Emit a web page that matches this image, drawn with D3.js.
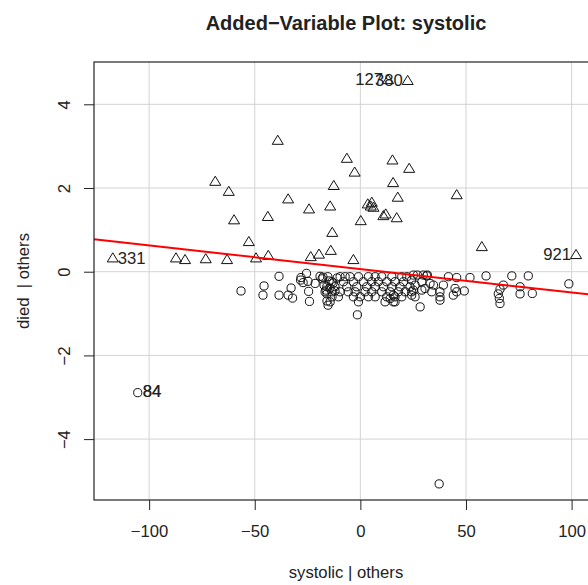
<!DOCTYPE html>
<html>
<head>
<meta charset="utf-8">
<script src="https://cdnjs.cloudflare.com/ajax/libs/d3/7.8.5/d3.min.js"></script>
<style>
html,body{margin:0;padding:0;background:#fff;overflow:hidden;}
svg{display:block;}
text{font-family:"Liberation Sans",Arial,Helvetica,sans-serif;fill:#222;}
</style>
</head>
<body>
<svg id="chart" width="588" height="585"></svg>
<script>
// ---- data ----
const titleText = "Added\u2212Variable Plot: systolic";
const xLabelText = "systolic | others";
const yLabelText = "died  | others";
const xTicks = [-100, -50, 0, 50, 100];
const yTicks = [-4, -2, 0, 2, 4];
const xDomain = [-126.1, 112.5];
const yDomain = [-5.455, 5.011];

// died = 1 (triangles)
const diedX = [-39.1,-68.7,-62.3,-34.2,-24.3,-14.3,-12.6,-59.8,-43.8,-13.3,-52.8,-14.0,-19.6,-23.5,-43.6,-49.4,-63.1,-73.2,-83.0,-87.3,-117.2,
               22.4,13.1,-6.4,-2.7,15.2,23.1,15.5,17.7,45.6,3.5,5.4,6.2,4.9,10.9,12.0,17.2,0.2,-3.3,57.5,102.1];
const diedY = [3.11,2.13,1.89,1.71,1.47,1.54,2.03,1.21,1.29,0.91,0.69,0.48,0.39,0.33,0.36,0.30,0.26,0.28,0.26,0.30,0.30,
               4.54,4.56,2.68,2.35,2.64,2.44,2.10,1.75,1.81,1.59,1.63,1.51,1.54,1.31,1.35,1.26,1.19,0.26,0.57,0.38];

// died = 0 (circles)
const survX = [-56.5,-45.6,-46.1,-38.5,-38.5,-32.8,-34.2,-32.1,-28.1,-28.3,-27.1,-25.5,-24.8,-24.5,-24.1,-21.4,-19.1,-18.1,-17.2,-16.2,
               -15.8,-15.8,-15.3,-17.7,-14.8,-14.4,-13.4,-12.9,-12.0,-11.0,
               -15.4,-9.6,-7.2,-4.9,-0.9,3.8,7.0,10.1,14.9,19.6,22.0,
               -13.5,-8.0,-3.3,1.4,5.4,8.5,12.5,16.4,20.4,
               -15.9,-12.0,-6.4,-1.7,3.0,7.0,10.9,14.9,18.8,
               -16.7,-13.5,-9.6,-5.7,-2.5,2.2,5.4,10.1,14.1,18.0,21.2,
               -10.4,-3.3,-0.1,3.8,7.0,12.5,16.4,
               -14.3,-0.9,11.7,15.6,-1.4,
               25.1,27.0,29.8,31.7,24.3,25.9,25.1,24.3,25.9,29.1,30.6,33.0,34.6,33.8,28.3,
               37.7,37.7,37.7,39.3,41.7,45.6,44.8,45.6,44.0,49.2,51.9,59.5,
               67.7,66.1,65.3,65.8,66.1,71.7,79.5,75.6,75.6,81.4,98.7,
               29.1,23.5,24.3,19.6,16.4,14.1,15.6,31.4,
               -105.4,37.3];
const survY = [-0.46,-0.34,-0.56,-0.11,-0.56,-0.39,-0.56,-0.63,-0.14,-0.20,-0.26,-0.04,-0.23,-0.47,-0.71,-0.28,-0.11,-0.17,-0.32,-0.44,
               -0.53,-0.70,-0.80,-0.13,-0.22,-0.39,-0.60,-0.27,-0.46,-0.15,
               -0.12,-0.12,-0.12,-0.12,-0.12,-0.12,-0.12,-0.12,-0.12,-0.12,-0.12,
               -0.24,-0.24,-0.24,-0.24,-0.24,-0.24,-0.24,-0.24,-0.24,
               -0.36,-0.36,-0.36,-0.36,-0.36,-0.36,-0.36,-0.36,-0.36,
               -0.48,-0.48,-0.48,-0.48,-0.48,-0.48,-0.48,-0.48,-0.48,-0.48,-0.48,
               -0.60,-0.60,-0.60,-0.60,-0.60,-0.60,-0.60,
               -0.72,-0.72,-0.72,-0.72,-1.03,
               -0.08,-0.08,-0.08,-0.08,-0.20,-0.32,-0.44,-0.56,-0.60,-0.24,-0.40,-0.28,-0.32,-0.48,-0.84,
               -0.48,-0.60,-0.68,-0.32,-0.12,-0.14,-0.40,-0.48,-0.56,-0.46,-0.14,-0.10,
               -0.32,-0.42,-0.53,-0.64,-0.76,-0.10,-0.10,-0.36,-0.53,-0.52,-0.29,
               -0.44,-0.36,-0.48,-0.60,-0.72,-0.64,-0.56,-0.10,
               -2.89,-5.07];

// fitted line (intercept, slope)
const fitIntercept = 0.065;
const fitSlope = -0.00562;

// point labels: text, x, y, side ("left"/"right")
const labelText = ["331", "921", "127", "380", "84", "84"];
const labelX    = [-117.2, 102.1, 13.1, 22.4, -105.4, -105.4];
const labelY    = [0.30, 0.38, 4.56, 4.54, -2.89, -2.89];
const labelSide = ["right", "left", "left", "left", "right", "right"];

// ---- drawing ----
const svg = d3.select("#chart");
const plot = {left: 94, right: 598, top: 62, bottom: 500};
const x = d3.scaleLinear().domain(xDomain).range([plot.left, plot.right]);
const y = d3.scaleLinear().domain(yDomain).range([plot.bottom, plot.top]);
const fs = 16.67;

svg.append("defs").append("clipPath").attr("id", "clip")
  .append("rect").attr("x", plot.left).attr("y", plot.top)
  .attr("width", plot.right - plot.left).attr("height", plot.bottom - plot.top);

const fmt = d3.format("d");

// grid
const grid = svg.append("g").attr("clip-path", "url(#clip)");
grid.selectAll(".gx").data(xTicks).join("line")
  .attr("x1", d => x(d)).attr("x2", d => x(d))
  .attr("y1", plot.top).attr("y2", plot.bottom)
  .attr("stroke", "#d3d3d3").attr("stroke-width", 1);
grid.selectAll(".gy").data(yTicks).join("line")
  .attr("y1", d => y(d)).attr("y2", d => y(d))
  .attr("x1", plot.left).attr("x2", plot.right)
  .attr("stroke", "#d3d3d3").attr("stroke-width", 1);

// axes
const xAxis = svg.append("g").attr("transform", `translate(0,${plot.bottom})`)
  .call(d3.axisBottom(x).tickValues(xTicks).tickFormat(fmt).tickSize(10).tickSizeOuter(0).tickPadding(0));
xAxis.select(".domain").remove();
xAxis.selectAll(".tick line").attr("stroke", "#222");
xAxis.selectAll(".tick text").attr("y", 37).attr("dy", null)
  .style("font-size", fs + "px").style("font-family", "Liberation Sans, Arial, sans-serif").attr("fill", "#222");

const yAxis = svg.append("g").attr("transform", `translate(${plot.left},0)`)
  .call(d3.axisLeft(y).tickValues(yTicks).tickFormat(fmt).tickSize(10).tickSizeOuter(0));
yAxis.select(".domain").remove();
yAxis.selectAll(".tick line").attr("stroke", "#222");
yAxis.selectAll(".tick text")
  .attr("x", null).attr("dy", null)
  .attr("transform", "translate(-30,0) rotate(-90)")
  .attr("text-anchor", "middle").attr("dominant-baseline", "central")
  .style("font-size", fs + "px").style("font-family", "Liberation Sans, Arial, sans-serif").attr("fill", "#222");

// points
const pts = svg.append("g").attr("clip-path", "url(#clip)");
const R = 4.1;
pts.selectAll("circle").data(survX.map((v, i) => [v, survY[i]])).join("circle")
  .attr("cx", d => x(d[0])).attr("cy", d => y(d[1])).attr("r", R)
  .attr("fill", "none").attr("stroke", "#111").attr("stroke-width", 1);
const tr = 1.555 * R, tyc = 0.673 * R, txc = 1.347 * R;
const triPath = `M0,${-tr}L${txc},${tyc}L${-txc},${tyc}Z`;
pts.selectAll("path.tri").data(diedX.map((v, i) => [v, diedY[i]])).join("path")
  .attr("class", "tri")
  .attr("transform", d => `translate(${x(d[0])},${y(d[1])})`)
  .attr("d", triPath)
  .attr("fill", "none").attr("stroke", "#111").attr("stroke-width", 1);

// regression line
svg.append("line").attr("clip-path", "url(#clip)")
  .attr("x1", x(xDomain[0])).attr("y1", y(fitIntercept + fitSlope * xDomain[0]))
  .attr("x2", x(xDomain[1])).attr("y2", y(fitIntercept + fitSlope * xDomain[1]))
  .attr("stroke", "#ff0000").attr("stroke-width", 2);

// point labels
svg.append("g").selectAll("text").data(labelText.map((t, i) => ({t, x: labelX[i], y: labelY[i], s: labelSide[i]}))).join("text")
  .attr("x", d => x(d.x) + (d.s === "right" ? 5 : -5))
  .attr("y", d => y(d.y) - 1)
  .attr("text-anchor", d => d.s === "right" ? "start" : "end")
  .attr("dominant-baseline", "central")
  .style("font-size", fs + "px")
  .text(d => d.t);

// box
svg.append("rect").attr("x", plot.left).attr("y", plot.top)
  .attr("width", plot.right - plot.left).attr("height", plot.bottom - plot.top)
  .attr("fill", "none").attr("stroke", "#222").attr("stroke-width", 1.2);

// titles
svg.append("text").attr("x", (plot.left + plot.right) / 2).attr("y", 30)
  .attr("text-anchor", "middle").style("font-size", "20px").style("font-weight", "bold")
  .text(titleText);
svg.append("text").attr("x", (plot.left + plot.right) / 2).attr("y", 578)
  .attr("text-anchor", "middle").style("font-size", fs + "px")
  .text(xLabelText);
svg.append("text").attr("transform", `translate(29,${(plot.top + plot.bottom) / 2}) rotate(-90)`)
  .attr("text-anchor", "middle").style("font-size", fs + "px").style("white-space", "pre")
  .text(yLabelText);
</script>
</body>
</html>
